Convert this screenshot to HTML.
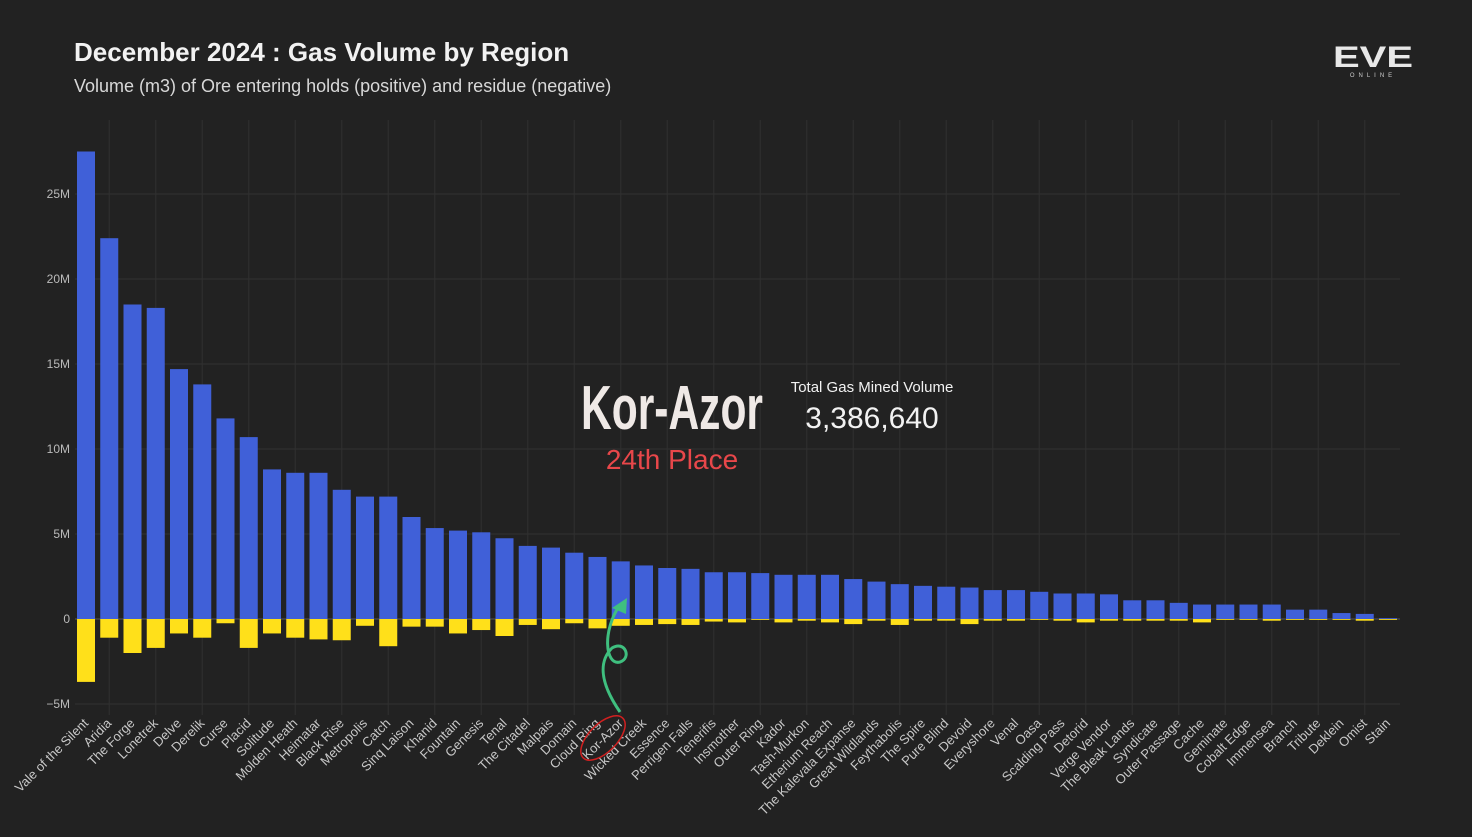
<!DOCTYPE html>
<html><head><meta charset="utf-8"><style>
body{margin:0;background:#222222;width:1472px;height:832px;overflow:hidden;font-family:"Liberation Sans",sans-serif}
</style></head><body>
<svg id="c" width="1472" height="832" xmlns="http://www.w3.org/2000/svg">
<rect width="1472" height="832" fill="#222222"/>
<text x="74" y="61" fill="#f2f2f2" font-size="26" font-weight="bold">December 2024 : Gas Volume by Region</text>
<text x="74" y="92" fill="#d8d8d8" font-size="18">Volume (m3) of Ore entering holds (positive) and residue (negative)</text>
<g>
<text x="1373" y="67" fill="#e8e8e8" font-size="30" font-weight="bold" text-anchor="middle" textLength="80" lengthAdjust="spacingAndGlyphs">EVE</text>
<text x="1373" y="77" fill="#cccccc" font-size="6" text-anchor="middle" letter-spacing="4">ONLINE</text>
</g>
<g id="grid"></g><g id="bars"></g><g id="labels"></g>
<g>
<text x="672" y="429" fill="#efe9e6" font-size="62" font-weight="bold" text-anchor="middle" font-family="'Liberation Sans Narrow','Liberation Sans',sans-serif" textLength="182" lengthAdjust="spacingAndGlyphs">Kor-Azor</text>
<text x="672" y="469" fill="#e8474a" font-size="28" text-anchor="middle">24th Place</text>
<text x="872" y="392" fill="#f2f2f2" font-size="15" text-anchor="middle">Total Gas Mined Volume</text>
<text x="872" y="428" fill="#f2f2f2" font-size="30" text-anchor="middle">3,386,640</text>
<path d="M620,712 C598,680 600,660 612,648 C625,640 632,658 620,662 C605,666 602,630 620,605" fill="none" stroke="#3fbf7f" stroke-width="3"/>
<polygon points="627,598 612,608 626,614" fill="#3fbf7f"/>
<ellipse cx="603" cy="738" rx="28" ry="14" transform="rotate(-45 603 738)" fill="none" stroke="#d02020" stroke-width="1.5"/>
</g>
</svg>
<script>
const categories=["Vale of the Silent","Aridia","The Forge","Lonetrek","Delve","Derelik","Curse","Placid","Solitude","Molden Heath","Heimatar","Black Rise","Metropolis","Catch","Sinq Laison","Khanid","Fountain","Genesis","Tenal","The Citadel","Malpais","Domain","Cloud Ring","Kor-Azor","Wicked Creek","Essence","Perrigen Falls","Tenerifis","Insmother","Outer Ring","Kador","Tash-Murkon","Etherium Reach","The Kalevala Expanse","Great Wildlands","Feythabolis","The Spire","Pure Blind","Devoid","Everyshore","Venal","Oasa","Scalding Pass","Detorid","Verge Vendor","The Bleak Lands","Syndicate","Outer Passage","Cache","Geminate","Cobalt Edge","Immensea","Branch","Tribute","Deklein","Omist","Stain"];
const positive=[27.5,22.4,18.5,18.3,14.7,13.8,11.8,10.7,8.8,8.6,8.6,7.6,7.2,7.2,6.0,5.35,5.2,5.1,4.75,4.3,4.2,3.9,3.65,3.39,3.15,3.0,2.95,2.75,2.75,2.7,2.6,2.6,2.6,2.35,2.2,2.05,1.95,1.9,1.85,1.7,1.7,1.6,1.5,1.5,1.45,1.1,1.1,0.95,0.85,0.85,0.85,0.85,0.55,0.55,0.35,0.3,0.05];
const negative=[-3.7,-1.1,-2.0,-1.7,-0.85,-1.1,-0.25,-1.7,-0.85,-1.1,-1.2,-1.25,-0.4,-1.6,-0.45,-0.45,-0.85,-0.65,-1.0,-0.35,-0.6,-0.25,-0.55,-0.4,-0.35,-0.3,-0.35,-0.15,-0.2,-0.05,-0.2,-0.1,-0.2,-0.3,-0.1,-0.35,-0.1,-0.1,-0.3,-0.1,-0.1,-0.05,-0.1,-0.2,-0.1,-0.1,-0.1,-0.1,-0.2,-0.05,-0.05,-0.1,-0.05,-0.05,-0.05,-0.1,-0.05];
const yTicks=[-5,0,5,10,15,20,25];
const yTickLabels=["−5M","0","5M","10M","15M","20M","25M"];
const NS="http://www.w3.org/2000/svg";
const y=v=>619-v*17;
const x=i=>86+i*23.25;
function mk(t,a,p){const e=document.createElementNS(NS,t);for(const k in a)e.setAttribute(k,a[k]);p.appendChild(e);return e;}
const grid=document.getElementById('grid'),bars=document.getElementById('bars'),labels=document.getElementById('labels');
yTicks.forEach((t,k)=>{
 const l=mk('line',{x1:75,x2:1400,y1:y(t),y2:y(t),stroke:t===0?'#555':'#333','stroke-width':1},grid);
 
 
 const tx=mk('text',{x:70,y:y(t)+4,fill:'#bbbbbb','font-size':12,'text-anchor':'end'},grid);
 tx.textContent=yTickLabels[k];
 
 
});
categories.forEach((c,i)=>{
 if(i%2===1){const g=mk('line',{x1:x(i),x2:x(i),y1:120,y2:715,stroke:'#303030'},grid);
 
 }
 const p=mk('rect',{x:x(i)-9,y:y(positive[i]),width:18,height:y(0)-y(positive[i]),fill:'#4060d8'},bars);
 
 
 const n=mk('rect',{x:x(i)-9,y:y(0),width:18,height:y(negative[i])-y(0),fill:'#ffe01a'},bars);
 
 
 const t=mk('text',{x:x(i)+3,y:724,fill:'#c8c8c8','font-size':13,'text-anchor':'end',transform:`rotate(-45 ${x(i)+3} 724)`},labels);
 t.textContent=c;
 
 
});
</script>
</body></html>
